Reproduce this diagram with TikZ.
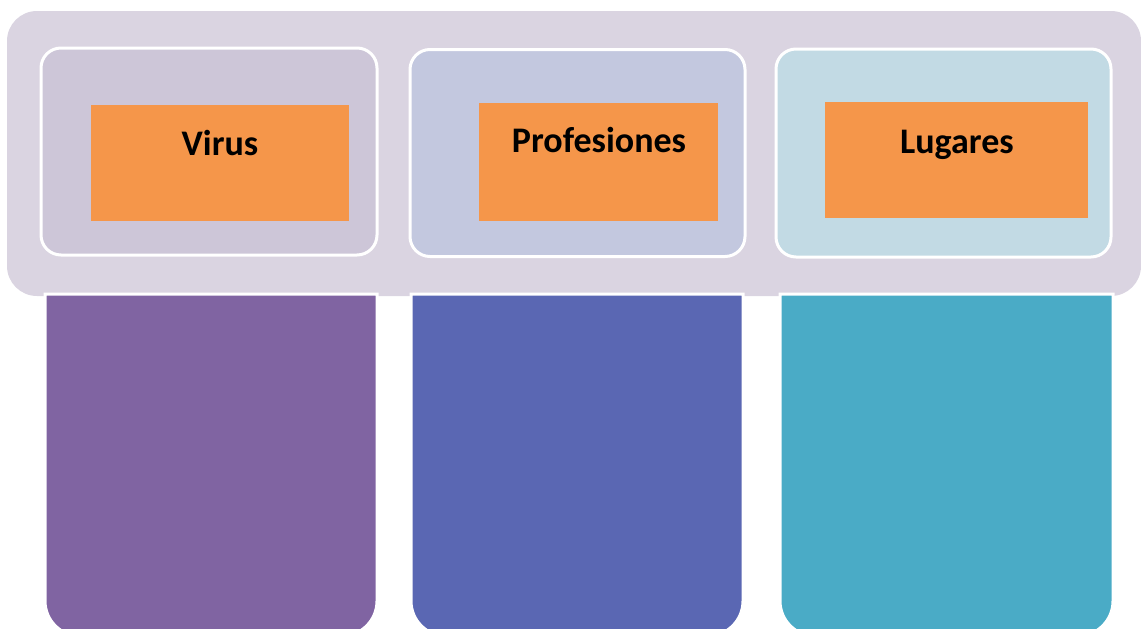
\documentclass[tikz,border=0pt]{standalone}
\usepackage{fontspec}
\setmainfont{Carlito}
\definecolor{bandc}{HTML}{DAD4E1}
\definecolor{boxa}{HTML}{CDC6D8}
\definecolor{boxb}{HTML}{C3C8DF}
\definecolor{boxc}{HTML}{C2DAE4}
\definecolor{orangec}{HTML}{F5964A}
\definecolor{cola}{HTML}{8064A2}
\definecolor{colb}{HTML}{5A67B3}
\definecolor{colc}{HTML}{4AABC6}
\tikzset{
  band/.style={fill=bandc, draw=none, rounded corners=30pt, inner sep=0pt},
  hbox/.style={draw=white, line width=3pt, rounded corners=20pt, inner sep=0pt},
  obox/.style={fill=orangec, draw=none, inner sep=0pt},
  lab/.style={anchor=base, inner sep=0pt, font=\bfseries\fontsize{36}{36}\selectfont, text=black},
  colbox/.style={draw=white, line width=3pt}
}
\begin{document}
\begin{tikzpicture}[x=1pt,y=-1pt]
\useasboundingbox (0,0) rectangle (1141,629);
% background band
\node[band, minimum width=1134pt, minimum height=285pt] (band) at (574,153.5) {};
% lower columns
\draw[colbox, fill=cola] (45,294) [rounded corners=35pt] -- (45,636) -- (377,636) [sharp corners] -- (377,294) -- cycle;
\draw[colbox, fill=colb] (411,294) [rounded corners=35pt] -- (411,636) -- (743,636) [sharp corners] -- (743,294) -- cycle;
\draw[colbox, fill=colc] (780,294) [rounded corners=35pt] -- (780,636) -- (1113,636) [sharp corners] -- (1113,294) -- cycle;
% header boxes
\node[hbox, fill=boxa, minimum width=336pt, minimum height=207pt] (h1) at (209,151.5) {};
\node[hbox, fill=boxb, minimum width=335pt, minimum height=207pt] (h2) at (577.5,153) {};
\node[hbox, fill=boxc, minimum width=335pt, minimum height=208pt] (h3) at (943.5,153) {};
% orange boxes
\node[obox, minimum width=258pt, minimum height=116pt] (o1) at (220,163) {};
\node[obox, minimum width=239pt, minimum height=118pt] (o2) at (598.5,162) {};
\node[obox, minimum width=263pt, minimum height=116pt] (o3) at (956.5,160) {};
% labels
\node[lab] (t1) at (220,155) {Virus};
\node[lab] (t2) at (599,152) {Profesiones};
\node[lab] (t3) at (957,153) {Lugares};
\end{tikzpicture}
\end{document}
